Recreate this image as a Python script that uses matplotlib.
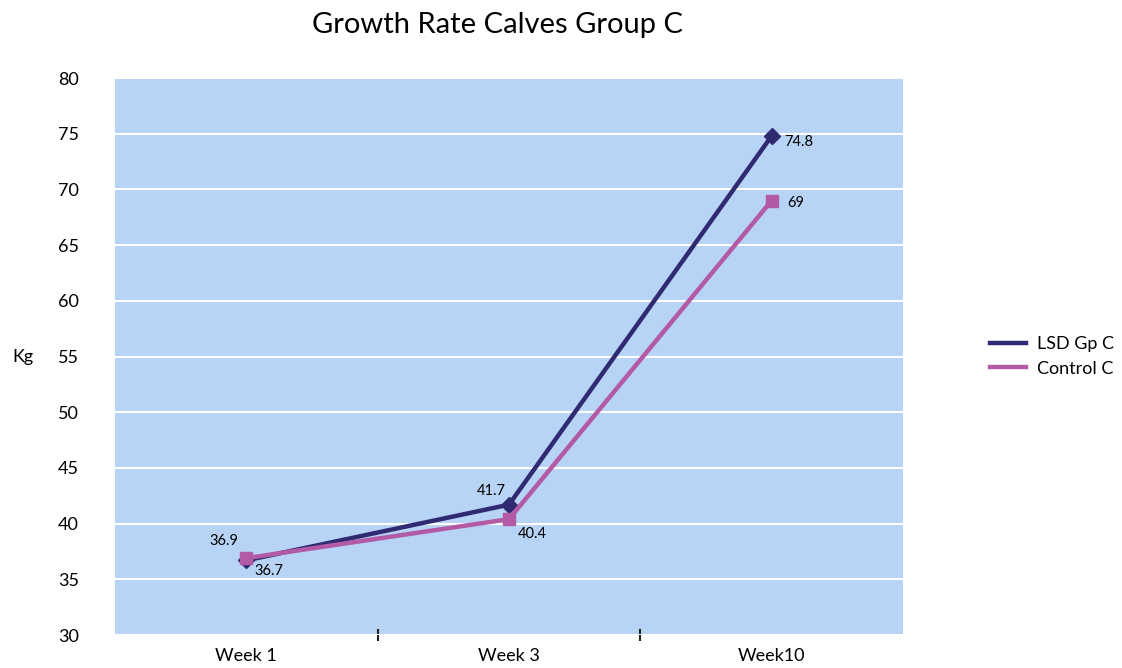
import matplotlib
matplotlib.use("Agg")
import matplotlib.pyplot as plt

weeks = ["Week 1", "Week 3", "Week10"]
lsd_gp_c = [36.7, 41.7, 74.8]
control_c = [36.9, 40.4, 69]

plt.rcParams['font.family'] = ['Lato', 'DejaVu Sans']

fig = plt.figure(figsize=(11.22, 6.68), dpi=100)
ax = fig.add_axes([0.1025, 0.0494, 0.7023, 0.8338])
ax.set_facecolor("#B7D3F5")

x = list(range(len(weeks)))
lsd_color = "#302A72"
ctrl_color = "#B35AA7"

ax.plot(x, lsd_gp_c, color=lsd_color, lw=3.2, marker="D", ms=8, label="LSD Gp C", zorder=3)
ax.plot(x, control_c, color=ctrl_color, lw=3.2, marker="s", ms=9, label="Control C", zorder=4)

# data labels
fs = 10.5
ax.annotate(f"{lsd_gp_c[0]:g}", (x[0], lsd_gp_c[0]), xytext=(6, -8), textcoords="offset points",
            fontsize=fs, va="center", ha="left")
ax.annotate(f"{control_c[0]:g}", (x[0], control_c[0]), xytext=(-6, 12), textcoords="offset points",
            fontsize=fs, va="center", ha="right")
ax.annotate(f"{lsd_gp_c[1]:g}", (x[1], lsd_gp_c[1]), xytext=(-2, 10), textcoords="offset points",
            fontsize=fs, va="center", ha="right")
ax.annotate(f"{control_c[1]:g}", (x[1], control_c[1]), xytext=(6, -11), textcoords="offset points",
            fontsize=fs, va="center", ha="left")
ax.annotate(f"{lsd_gp_c[2]:g}", (x[2], lsd_gp_c[2]), xytext=(9, -4), textcoords="offset points",
            fontsize=fs, va="center", ha="left")
ax.annotate(f"{control_c[2]:g}", (x[2], control_c[2]), xytext=(11, -2), textcoords="offset points",
            fontsize=fs, va="center", ha="left")

ax.set_xlim(-0.5, 2.5)
ax.set_ylim(30, 80)
ax.set_yticks(range(30, 81, 5))
ax.yaxis.grid(True, color="white", lw=1.5)
ax.set_axisbelow(True)
ax.tick_params(axis="y", length=0, labelsize=13, pad=26)

ax.set_xticks(x)
ax.set_xticklabels(weeks, fontsize=13)
ax.set_xticks([0.5, 1.5], minor=True)
ax.tick_params(axis="x", which="major", length=0, pad=9)
ax.tick_params(axis="x", which="minor", length=8, width=1.5, direction="inout", color="#222222")
for s in ax.spines.values():
    s.set_visible(False)

ax.set_ylabel("Kg", rotation=0, fontsize=13, va="center")
ax.yaxis.set_label_coords(-0.117, 0.5)

fig.suptitle("Growth Rate Calves Group C", fontsize=21, x=0.443, y=0.982)

ax.legend(loc="center left", bbox_to_anchor=(1.09, 0.5), frameon=False, fontsize=13,
          handlelength=2.0, handletextpad=0.6, labelspacing=0.45)
leg = ax.get_legend()
for h in leg.legend_handles:
    h.set_marker("")

fig.savefig("out.png", dpi=100)
